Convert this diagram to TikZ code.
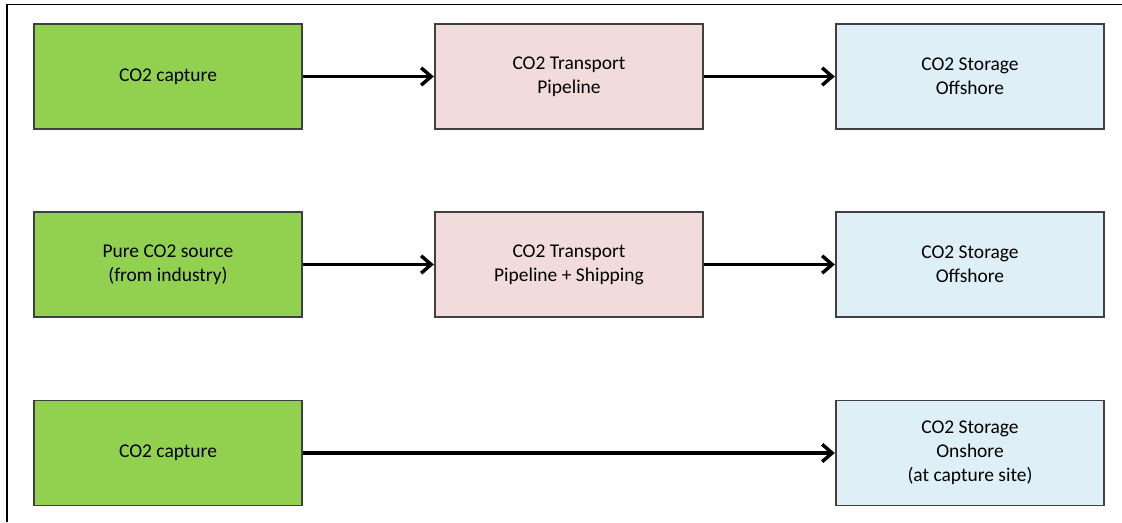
\documentclass[tikz,border=0pt]{standalone}
\usepackage{fontspec}
\setmainfont{Carlito}
\usetikzlibrary{arrows.meta}
\definecolor{capgreen}{HTML}{92D050}
\definecolor{transpink}{HTML}{F2DCDB}
\definecolor{storeblue}{HTML}{DEEFF8}
\definecolor{boxline}{HTML}{404040}
\begin{document}
\begin{tikzpicture}[x=0.75pt,y=-0.75pt,
  box/.style={draw=boxline,line width=0.8pt,minimum width=201pt,minimum height=78.75pt,
    align=center,font=\fontsize{14.6}{18}\selectfont,text=black,inner sep=0pt},
  green box/.style={box,fill=capgreen},
  pink box/.style={box,fill=transpink},
  blue box/.style={box,fill=storeblue},
  flow/.style={line width=2.6pt,black,-{Straight Barb[length=7.5pt,width=13pt,line width=2.6pt]},shorten >=0.5pt}]
\useasboundingbox (0,0) rectangle (1122,522);
\draw[line width=1.2pt] (7,522) -- (7,4.5) -- (1122,4.5);
% row 1
\node[green box] (cap1) at (168,76.5) {CO2 capture};
\node[pink box] (tr1) at (569,76.5) {CO2 Transport\\Pipeline};
\node[blue box] (st1) at (970,76.5) {CO2 Storage\\Offshore};
% row 2
\node[green box] (src2) at (168,264.5) {Pure CO2 source\\(from industry)};
\node[pink box] (tr2) at (569,264.5) {CO2 Transport\\Pipeline + Shipping};
\node[blue box] (st2) at (970,264.5) {CO2 Storage\\Offshore};
% row 3
\node[green box] (cap3) at (168,453) {CO2 capture};
\node[blue box] (st3) at (970,453) {CO2 Storage\\Onshore\\(at capture site)};
% connectors
\draw[flow] (cap1) -- (tr1);
\draw[flow] (tr1) -- (st1);
\draw[flow] (src2) -- (tr2);
\draw[flow] (tr2) -- (st2);
\draw[flow] (cap3) -- (st3);
\end{tikzpicture}
\end{document}
